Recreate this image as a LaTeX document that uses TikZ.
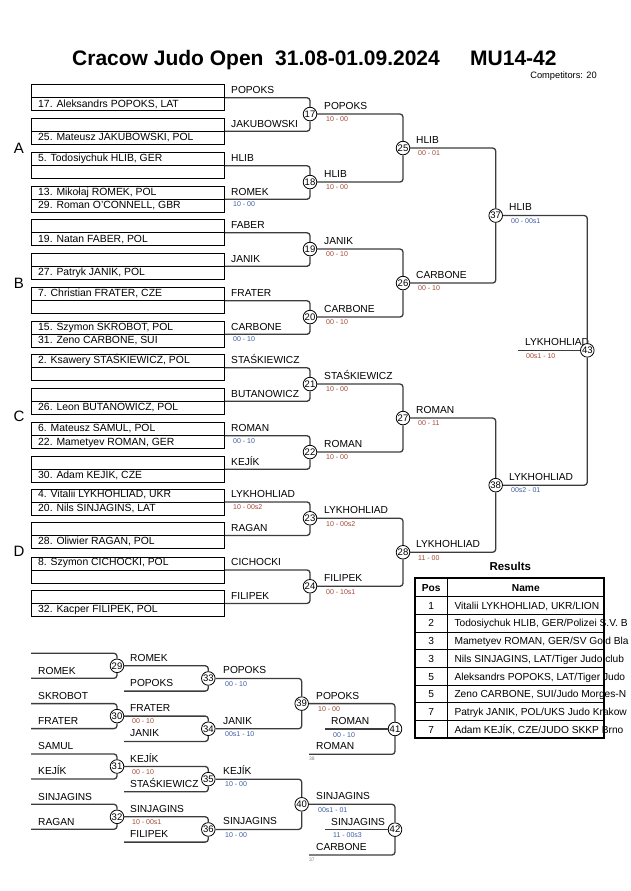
\documentclass[tikz,border=0pt]{standalone}
\usepackage{fontspec}
\setmainfont{Liberation Sans}
\newcommand{\fnm}{\fontsize{10.2}{12}\selectfont}
\newcommand{\fbx}{\fontsize{10.4}{12}\selectfont}
\newcommand{\fsc}{\fontsize{7}{8}\selectfont}
\newcommand{\fci}{\fontsize{9.5}{10}\selectfont}
\definecolor{scbrown}{RGB}{160,72,52}
\definecolor{scblue}{RGB}{60,92,160}
\definecolor{brgray}{RGB}{60,60,60}
\begin{document}
\begin{tikzpicture}[x=1pt,y=-1pt,
 bx/.style={draw=black,line width=0.9pt,minimum width=193pt,minimum height=26pt,inner sep=0pt,anchor=north west},
 nm/.style={font=\fnm,anchor=base west,inner sep=0pt},
 bn/.style={font=\fbx,anchor=base west,inner sep=0pt},
 sb/.style={font=\fsc,anchor=base west,inner sep=0pt,text=scbrown},
 su/.style={font=\fsc,anchor=base west,inner sep=0pt,text=scblue},
 tiny/.style={font=\fontsize{5}{6}\selectfont,anchor=base west,inner sep=0pt,text=gray},
 mc/.style={circle,draw=black,fill=white,line width=0.8pt,minimum size=13.6pt,inner sep=0pt,font=\fci},
 br/.style={draw=brgray,line width=1.3pt,rounded corners=3pt},
 dv/.style={draw=black,line width=0.9pt},
 grp/.style={font=\fontsize{15}{18}\selectfont,anchor=base,inner sep=0pt},
 hd/.style={font=\fnm\bfseries,anchor=base,inner sep=0pt},
 cel/.style={font=\fnm,anchor=base,inner sep=0pt},
]
\useasboundingbox (0,0) rectangle (630,891);

% ---------------- title
\node[font=\fontsize{21}{25}\selectfont\bfseries,anchor=base west,inner sep=0pt] (title) at (72,66) {Cracow Judo Open\ \ 31.08-01.09.2024};
\node[font=\fontsize{21}{25}\selectfont\bfseries,anchor=base west,inner sep=0pt] (cat) at (470,66) {MU14-42};
\node[font=\fontsize{9.3}{10}\selectfont,anchor=base east,inner sep=0pt] (comp) at (597,78.5) {Competitors: 20};

% ---------------- group letters
\node[grp] (gA) at (19,153.7) {A};
\node[grp] (gB) at (19,288.7) {B};
\node[grp] (gC) at (19,421.4) {C};
\node[grp] (gD) at (19,556.4) {D};

% ---------------- boxes
\foreach \i/\t in {1/84.3,2/117.8,3/152.3,4/185.8,5/219.3,6/252.8,7/287.3,8/320.8,9/354.3,10/387.8,11/422.3,12/455.8,13/488.5,14/522,15/556.5,16/590}{
  \node[bx] (b\i) at (31,\t) {};
  \draw[dv] (b\i.west) -- (b\i.east);
}
% names
\node[bn] (n1) at (38,107.1) {17. Aleksandrs POPOKS, LAT};
\node[bn] (n2) at (38,140.6) {25. Mateusz JAKUBOWSKI, POL};
\node[bn] (n3) at (38,161.5) {5. Todosiychuk HLIB, GER};
\node[bn] (n4a) at (38,195) {13. Mikołaj ROMEK, POL};
\node[bn] (n4b) at (38,208.6) {29. Roman O'CONNELL, GBR};
\node[bn] (n5) at (38,242.1) {19. Natan FABER, POL};
\node[bn] (n6) at (38,275.6) {27. Patryk JANIK, POL};
\node[bn] (n7) at (38,296.5) {7. Christian FRATER, CZE};
\node[bn] (n8a) at (38,330) {15. Szymon SKROBOT, POL};
\node[bn] (n8b) at (38,343.6) {31. Zeno CARBONE, SUI};
\node[bn] (n9) at (38,363.5) {2. Ksawery STAŚKIEWICZ, POL};
\node[bn] (n10) at (38,410.6) {26. Leon BUTANOWICZ, POL};
\node[bn] (n11a) at (38,431.5) {6. Mateusz SAMUL, POL};
\node[bn] (n11b) at (38,445.1) {22. Mametyev ROMAN, GER};
\node[bn] (n12) at (38,478.6) {30. Adam KEJÍK, CZE};
\node[bn] (n13a) at (38,497.7) {4. Vitalii LYKHOHLIAD, UKR};
\node[bn] (n13b) at (38,511.3) {20. Nils SINJAGINS, LAT};
\node[bn] (n14) at (38,544.8) {28. Oliwier RAGAN, POL};
\node[bn] (n15) at (38,565.7) {8. Szymon CICHOCKI, POL};
\node[bn] (n16) at (38,612.8) {32. Kacper FILIPEK, POL};

% box labels
\node[nm] (l1) at (231,93.7) {POPOKS};
\node[nm] (l2) at (231,127.2) {JAKUBOWSKI};
\node[nm] (l3) at (231,161.7) {HLIB};
\node[nm] (l4) at (231,195.2) {ROMEK};
\node[su] (s4) at (233,206.6) {10 - 00};
\node[nm] (l5) at (231,228.7) {FABER};
\node[nm] (l6) at (231,262.2) {JANIK};
\node[nm] (l7) at (231,296.7) {FRATER};
\node[nm] (l8) at (231,330.2) {CARBONE};
\node[su] (s8) at (233,341.6) {00 - 10};
\node[nm] (l9) at (231,363.7) {STAŚKIEWICZ};
\node[nm] (l10) at (231,397.2) {BUTANOWICZ};
\node[nm] (l11) at (231,431.7) {ROMAN};
\node[su] (s11) at (233,443.1) {00 - 10};
\node[nm] (l12) at (231,465.2) {KEJÍK};
\node[nm] (l13) at (231,497.9) {LYKHOHLIAD};
\node[sb] (s13) at (233,509.3) {10 - 00s2};
\node[nm] (l14) at (231,531.4) {RAGAN};
\node[nm] (l15) at (231,565.9) {CICHOCKI};
\node[nm] (l16) at (231,599.4) {FILIPEK};

% ---------------- round 1 circles
\foreach \m/\y in {17/114.05,18/182.05,19/249.05,20/317.05,21/384.05,22/452.05,23/518.25,24/586.25}{
  \node[mc] (m\m) at (310,\y) {\m};
}
\foreach \a/\b/\m in {1/2/17,3/4/18,5/6/19,7/8/20,9/10/21,11/12/22,13/14/23,15/16/24}{
  \draw[br] (b\a.east) -| (m\m.north);
  \draw[br] (b\b.east) -| (m\m.south);
}
% round 2 circles
\foreach \m/\y in {25/148.05,26/283.05,27/418.05,28/552.25}{
  \node[mc] (m\m) at (403,\y) {\m};
}
\foreach \a/\b/\m in {17/18/25,19/20/26,21/22/27,23/24/28}{
  \draw[br] (m\a.east) -| (m\m.north);
  \draw[br] (m\b.east) -| (m\m.south);
}
% round 3
\node[mc] (m37) at (495.7,215.55) {37};
\node[mc] (m38) at (495.7,485.15) {38};
\draw[br] (m25.east) -| (m37.north);
\draw[br] (m26.east) -| (m37.south);
\draw[br] (m27.east) -| (m38.north);
\draw[br] (m28.east) -| (m38.south);
% final
\node[nm] (lf) at (525,345.5) {LYKHOHLIAD};
\node[sb] (sf) at (526,358) {00s1 - 10};
\node[mc] (m43) at (587.3,350.35) {43};
\draw[br] (m37.east) -| (m43.north);
\draw[br] (m38.east) -| (m43.south);
\coordinate (fs) at (518,350.35);
\draw[br] (fs) -- (m43.west);

% round 1 winner labels
\node[nm] (w17) at (324,109.45) {POPOKS};     \node[sb] (x17) at (326,121.85) {10 - 00};
\node[nm] (w18) at (324,177.45) {HLIB};       \node[sb] (x18) at (326,189.85) {10 - 00};
\node[nm] (w19) at (324,244.45) {JANIK};      \node[sb] (x19) at (326,256.85) {00 - 10};
\node[nm] (w20) at (324,312.45) {CARBONE};    \node[sb] (x20) at (326,324.85) {00 - 10};
\node[nm] (w21) at (324,379.45) {STAŚKIEWICZ};\node[sb] (x21) at (326,391.85) {10 - 00};
\node[nm] (w22) at (324,447.45) {ROMAN};      \node[sb] (x22) at (326,459.85) {10 - 00};
\node[nm] (w23) at (324,513.65) {LYKHOHLIAD}; \node[sb] (x23) at (326,526.05) {10 - 00s2};
\node[nm] (w24) at (324,581.65) {FILIPEK};    \node[sb] (x24) at (326,594.05) {00 - 10s1};
% round 2 winner labels
\node[nm] (w25) at (416,143.45) {HLIB};       \node[sb] (x25) at (418,155.85) {00 - 01};
\node[nm] (w26) at (416,278.45) {CARBONE};    \node[sb] (x26) at (418,290.85) {00 - 10};
\node[nm] (w27) at (416,413.45) {ROMAN};      \node[sb] (x27) at (418,425.85) {00 - 11};
\node[nm] (w28) at (416,547.65) {LYKHOHLIAD}; \node[sb] (x28) at (418,560.05) {11 - 00};
% round 3 winner labels
\node[nm] (w37) at (509,210.75) {HLIB};       \node[su] (x37) at (511,223.35) {00 - 00s1};
\node[nm] (w38) at (509,480.35) {LYKHOHLIAD}; \node[su] (x38) at (511,492.95) {00s2 - 01};

% ---------------- repechage
\coordinate (r29a) at (31,653.3);  \coordinate (r29b) at (31,678.3);
\coordinate (r30a) at (31,703.6);  \coordinate (r30b) at (31,728.6);
\coordinate (r31a) at (31,754);    \coordinate (r31b) at (31,779);
\coordinate (r32a) at (31,804.3);  \coordinate (r32b) at (31,829.3);
\node[nm] (q29b) at (38,674.1) {ROMEK};
\node[nm] (q30a) at (38,699.4) {SKROBOT};
\node[nm] (q30b) at (38,724.4) {FRATER};
\node[nm] (q31a) at (38,749.8) {SAMUL};
\node[nm] (q31b) at (38,774.8) {KEJÍK};
\node[nm] (q32a) at (38,800.1) {SINJAGINS};
\node[nm] (q32b) at (38,825.1) {RAGAN};
\foreach \m/\y in {29/665.8,30/716.1,31/766.5,32/816.8}{
  \node[mc] (m\m) at (117,\y) {\m};
  \draw[br] (r\m a) -| (m\m.north);
  \draw[br] (r\m b) -| (m\m.south);
}
% column 2
\coordinate (r33b) at (124,691.1);
\coordinate (r34b) at (124,741.4);
\coordinate (r35b) at (124,791.8);
\coordinate (r36b) at (124,842.1);
\node[nm] (w29) at (130,661.3) {ROMEK};
\node[nm] (w30) at (130,711.6) {FRATER};     \node[sb] (x30) at (132,723.6) {00 - 10};
\node[nm] (w31) at (130,762) {KEJÍK};        \node[sb] (x31) at (132,774) {00 - 10};
\node[nm] (w32) at (130,812.3) {SINJAGINS};  \node[sb] (x32) at (132,824.3) {10 - 00s1};
\node[nm] (q33b) at (130,686.6) {POPOKS};
\node[nm] (q34b) at (130,736.9) {JANIK};
\node[nm] (q35b) at (130,787.3) {STAŚKIEWICZ};
\node[nm] (q36b) at (130,837.6) {FILIPEK};
\foreach \m/\p/\y in {33/29/678.45,34/30/728.75,35/31/779.15,36/32/829.45}{
  \node[mc] (m\m) at (208.3,\y) {\m};
  \draw[br] (m\p.east) -| (m\m.north);
  \draw[br] (r\m b) -| (m\m.south);
}
% column 3
\node[nm] (w33) at (223,673.85) {POPOKS};    \node[su] (x33) at (225,686.05) {00 - 10};
\node[nm] (w34) at (223,724.15) {JANIK};     \node[su] (x34) at (225,736.35) {00s1 - 10};
\node[nm] (w35) at (223,774.55) {KEJÍK};     \node[su] (x35) at (225,786.75) {10 - 00};
\node[nm] (w36) at (223,824.85) {SINJAGINS}; \node[su] (x36) at (225,837.05) {10 - 00};
\node[mc] (m39) at (301.7,703.6) {39};
\node[mc] (m40) at (301.7,804.3) {40};
\draw[br] (m33.east) -| (m39.north);
\draw[br] (m34.east) -| (m39.south);
\draw[br] (m35.east) -| (m40.north);
\draw[br] (m36.east) -| (m40.south);
% column 4
\coordinate (r41b) at (309,754.3);
\coordinate (r42b) at (309,855);
\coordinate (s41) at (325,728.95);
\coordinate (s42) at (325,829.65);
\node[nm] (w39) at (316,699.2) {POPOKS};     \node[sb] (x39) at (318,711.6) {10 - 00};
\node[nm] (q41b) at (316,749.8) {ROMAN};     \node[tiny] (t41) at (309,760) {38};
\node[nm] (w41) at (331,724.5) {ROMAN};      \node[su] (x41) at (333,737) {00 - 10};
\node[nm] (w40) at (316,799.9) {SINJAGINS};  \node[su] (x40) at (318,812.3) {00s1 - 01};
\node[nm] (q42b) at (316,850.5) {CARBONE};   \node[tiny] (t42) at (309,861) {37};
\node[nm] (w42) at (331,825.2) {SINJAGINS};  \node[su] (x42) at (333,837.7) {11 - 00s3};
\node[mc] (m41) at (395,728.95) {41};
\node[mc] (m42) at (395,829.65) {42};
\draw[br] (m39.east) -| (m41.north);
\draw[br] (r41b) -| (m41.south);
\draw[br] (s41) -- (m41.west);
\draw[br] (m40.east) -| (m42.north);
\draw[br] (r42b) -| (m42.south);
\draw[br] (s42) -- (m42.west);

% ---------------- results table
\node[font=\fontsize{11.5}{13}\selectfont\bfseries,anchor=base,inner sep=0pt] (res) at (510.3,570.2) {Results};
\node[hd] (hpos) at (431.2,591.2) {Pos};
\node[hd] (hname) at (525.8,591.2) {Name};
\foreach \k/\p/\n in {0/1/{Vitalii LYKHOHLIAD, UKR/LION},
                      1/2/{Todosiychuk HLIB, GER/Polizei S.V. B},
                      2/3/{Mametyev ROMAN, GER/SV Gold Bla},
                      3/3/{Nils SINJAGINS, LAT/Tiger Judo club},
                      4/5/{Aleksandrs POPOKS, LAT/Tiger Judo},
                      5/5/{Zeno CARBONE, SUI/Judo Morges-N},
                      6/7/{Patryk JANIK, POL/UKS Judo Krakow},
                      7/7/{Adam KEJÍK, CZE/JUDO SKKP Brno}}{
  \node[cel] (tp\k) at (431.2,609.25+17.7*\k) {\p};
  \node[nm] (tn\k) at (454.3,609.25+17.7*\k) {\n};
}
\foreach \k in {0,...,7}{
  \draw[line width=0.9pt] (415,596.7+17.7*\k) -- (604.3,596.7+17.7*\k);
}
\draw[line width=0.9pt] (447.3,578.3) -- (447.3,738.3);
\draw[line width=1.8pt] (415,578.3) rectangle (604.3,738.3);
\end{tikzpicture}
\end{document}
